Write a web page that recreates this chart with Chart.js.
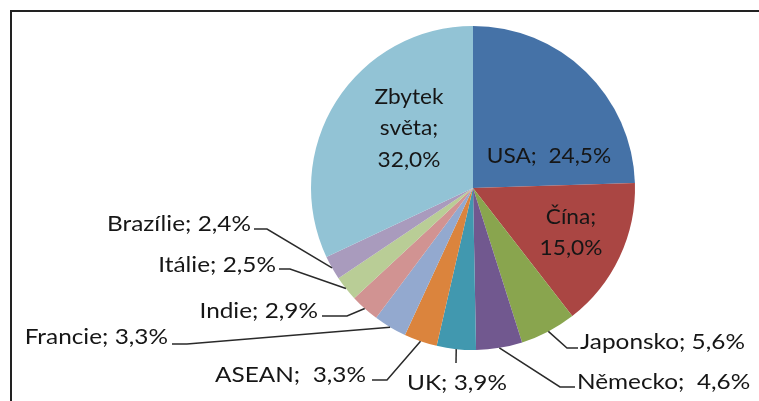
<!DOCTYPE html>
<html>
<head>
<meta charset="utf-8">
<script src="https://cdn.jsdelivr.net/npm/chart.js@4.4.0/dist/chart.umd.min.js"></script>
<style>
html, body { margin: 0; padding: 0; background: #fff; }
#wrap { width: 759px; height: 401px; }
</style>
</head>
<body>
<div id="wrap"><canvas id="pie" width="759" height="401"></canvas></div>
<script>
// share of world GDP, clockwise from 12 o'clock
const names = ['USA', 'Čína', 'Japonsko', 'Německo', 'UK', 'ASEAN', 'Francie', 'Indie', 'Itálie', 'Brazílie', 'Zbytek světa']
const shares = [24.5, 15.0, 5.6, 4.6, 3.9, 3.3, 3.3, 2.9, 2.5, 2.4, 32.0]
const colours = ['#4572A7', '#AA4643', '#89A54E', '#71588F', '#4198AF', '#DB843D', '#93A9CF', '#D19392', '#B9CD96', '#A99BBD', '#92C3D5']

const fmt = v => v.toFixed(1).replace('.', ',') + '%'

// where each data label sits (inside ones are centred, outside ones get a leader line)
const labelPos = [
    { lines: ['USA;  ' + fmt(shares[0])], x: 549, y: 156 },
    { lines: ['Čína;', fmt(shares[1])], x: 571, y: 217 },
    { text: 'Japonsko; ' + fmt(shares[2]), align: 'left', tx: 580, ty: 349, path: [[567, 348], [578, 348]] },
    { text: 'Německo;  ' + fmt(shares[3]), align: 'left', tx: 577, ty: 389, path: [[560, 387], [575, 387]] },
    { text: 'UK; ' + fmt(shares[4]), align: 'center', tx: 457, ty: 390, path: [[456, 363]] },
    { text: 'ASEAN;  ' + fmt(shares[5]), align: 'right', tx: 366, ty: 382, path: [[387, 380], [372, 380]] },
    { text: 'Francie; ' + fmt(shares[6]), align: 'right', tx: 168, ty: 344, path: [[187, 344], [172, 344]] },
    { text: 'Indie; ' + fmt(shares[7]), align: 'right', tx: 318, ty: 318, path: [[347, 316], [322, 316]] },
    { text: 'Itálie; ' + fmt(shares[8]), align: 'right', tx: 276, ty: 272, path: [[290, 269], [279, 269]] },
    { text: 'Brazílie; ' + fmt(shares[9]), align: 'right', tx: 251, ty: 231, path: [[267, 229], [254, 229]] },
    { lines: ['Zbytek', 'světa;', fmt(shares[10])], x: 409, y: 97 },
]

const FONT = '21px Lato'
const TEXT = '#161616'

function stretchText(ctx, text, x, y, sx) {
    ctx.save()
    ctx.translate(x, y)
    ctx.scale(sx, 1)
    ctx.fillText(text, 0, 0)
    ctx.restore()
}

const framePlugin = {
    id: 'frame',
    beforeDraw(chart) {
        const ctx = chart.ctx
        ctx.save()
        ctx.fillStyle = '#fff'
        ctx.fillRect(0, 0, chart.width, chart.height)
        ctx.strokeStyle = '#222'
        ctx.lineWidth = 2
        ctx.strokeRect(11, 11, 800, 500)
        ctx.restore()
    }
}

const labelPlugin = {
    id: 'pieLabels',
    afterDatasetsDraw(chart) {
        const ctx = chart.ctx
        const arcs = chart.getDatasetMeta(0).data
        ctx.save()
        ctx.font = FONT
        ctx.fillStyle = TEXT
        arcs.forEach((arc, i) => {
            const p = labelPos[i]
            if (p.lines) {
                ctx.textAlign = 'center'
                ctx.textBaseline = 'middle'
                p.lines.forEach((l, k) => stretchText(ctx, l, p.x, p.y + k * 31.5, 1.08))
                return
            }
            const { x, y, startAngle, endAngle, outerRadius } = arc.getProps(['x', 'y', 'startAngle', 'endAngle', 'outerRadius'], true)
            const mid = (startAngle + endAngle) / 2
            ctx.beginPath()
            ctx.moveTo(x + Math.cos(mid) * outerRadius, y + Math.sin(mid) * outerRadius)
            p.path.forEach(pt => ctx.lineTo(pt[0], pt[1]))
            ctx.strokeStyle = '#2a2a2a'
            ctx.lineWidth = 1.5
            ctx.stroke()
            ctx.textAlign = p.align
            ctx.textBaseline = 'alphabetic'
            stretchText(ctx, p.text, p.tx, p.ty, 1.16)
        })
        ctx.restore()
    }
}

const config = {
    type: 'pie',
    data: {
        labels: names,
        datasets: [{
            data: shares,
            backgroundColor: colours,
            borderWidth: 0
        }]
    },
    options: {
        responsive: false,
        animation: false,
        layout: { padding: { left: 311, right: 124, top: 26, bottom: 51 } },
        plugins: {
            legend: { display: false },
            tooltip: { enabled: false }
        }
    },
    plugins: [framePlugin, labelPlugin]
}

document.fonts.load(FONT).then(() => {
    new Chart(document.getElementById('pie'), config)
})
</script>
</body>
</html>
